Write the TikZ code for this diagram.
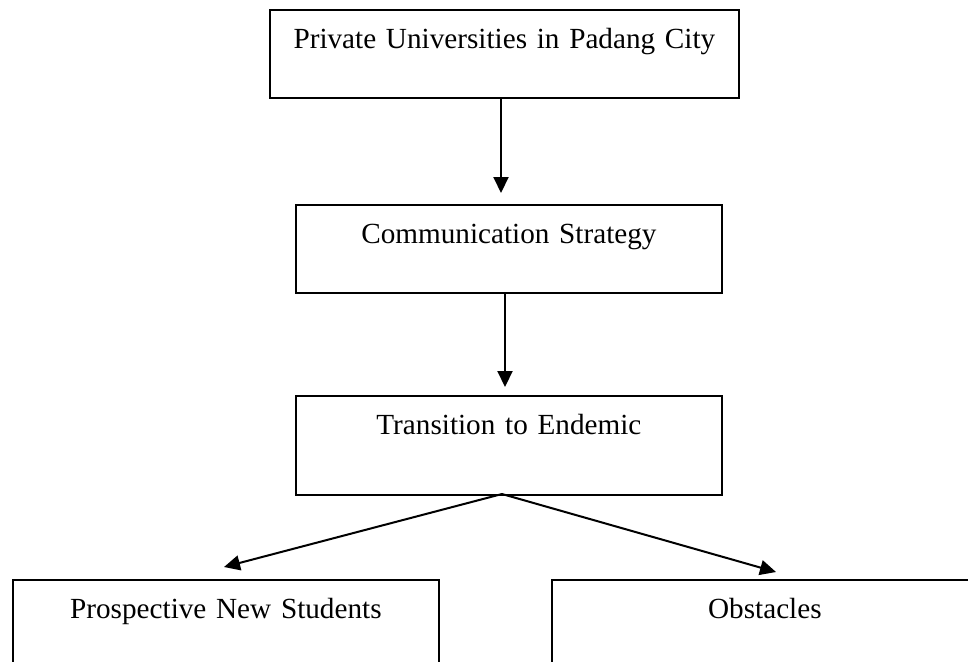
\documentclass[tikz,border=0pt]{standalone}
\usepackage{fontspec}
\setmainfont{Liberation Serif}
\usepackage{tikz}
\usetikzlibrary{arrows.meta,positioning}

\begin{document}
\begin{tikzpicture}[x=0.5pt, y=-0.5pt,
    fbox/.style={draw, line width=0.9pt, inner sep=0pt, anchor=north west,
                 align=center, text width=213pt, text height=19.5pt, text depth=24.5pt,
                 font=\fontsize{14.6}{17}\selectfont},
    arr/.style={-{Triangle[length=8pt, width=7.5pt]}, line width=1pt},
]
\clip (0,0) rectangle (968,661);

\node[fbox, text width=234.5pt] (univ) at (269,9) {Private Universities in Padang City};
\node[fbox] (comm) at (295,204) {Communication Strategy};
\node[fbox, text depth=30pt] (trans) at (295,395) {Transition to Endemic};
\node[fbox, text depth=60pt] (pros) at (12,579) {Prospective New Students};
\node[fbox, text depth=60pt] (obst) at (551,579) {Obstacles};

% arrow ends stop short of the boxes
\coordinate (a1) at (501,193);
\coordinate (a2) at (505,387);
\coordinate (a3) at (224,567);
\coordinate (a4) at (776,572);
\coordinate (fork) at (502,494);

\draw[arr] (univ.south -| a1) -- (a1);
\draw[arr] (comm.south -| a2) -- (a2);
\draw[arr] (fork) -- (a3);
\draw[arr] (fork) -- (a4);
\end{tikzpicture}
\end{document}
